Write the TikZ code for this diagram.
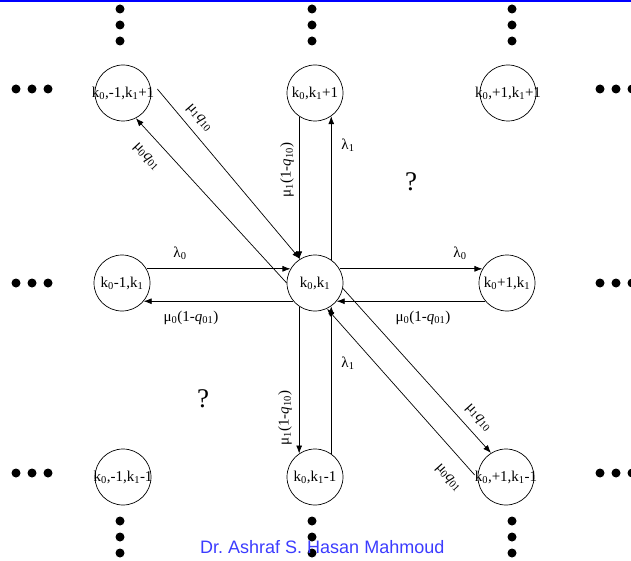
\documentclass[tikz,border=0pt]{standalone}
\usepackage{fontspec}
\setmainfont{Liberation Serif}
\newfontfamily\footfont{Liberation Sans}
\usetikzlibrary{arrows.meta}
\definecolor{footblue}{RGB}{60,60,255}
\newcommand\sbs[1]{\textsubscript{#1}}
\frenchspacing
\begin{document}
\begin{tikzpicture}[x=1bp,y=-1bp,
  state/.style={draw,circle,minimum size=56bp,inner sep=0pt,line width=0.7bp,
    font=\fontsize{15bp}{17bp}\selectfont},
  arr/.style={-{Latex[length=8bp,width=6bp]},line width=0.7bp},
  lab/.style={inner sep=0pt,font=\fontsize{15bp}{17bp}\selectfont},
  qm/.style={inner sep=0pt,font=\fontsize{27bp}{30bp}\selectfont},
  dotc/.style={fill=black}]
\useasboundingbox (0,0) rectangle (631,561);
\draw[blue,line width=2bp] (0,1) -- (631,1);
% states
\node[state] (TL) at (123,93)  {\makebox[0pt]{k\sbs{0},-1,k\sbs{1}+1}};
\node[state] (TM) at (315,93)  {\makebox[0pt]{k\sbs{0},k\sbs{1}+1}};
\node[state] (TR) at (508,93)  {\makebox[0pt]{k\sbs{0},+1,k\sbs{1}+1}};
\node[state] (ML) at (122,283) {\makebox[0pt]{k\sbs{0}-1,k\sbs{1}}};
\node[state] (C)  at (315,283) {\makebox[0pt]{k\sbs{0},k\sbs{1}}};
\node[state] (MR) at (507,283) {\makebox[0pt]{k\sbs{0}+1,k\sbs{1}}};
\node[state] (BL) at (123,477) {\makebox[0pt]{k\sbs{0},-1,k\sbs{1}-1}};
\node[state] (BM) at (315,477) {\makebox[0pt]{k\sbs{0},k\sbs{1}-1}};
\node[state] (BR) at (506,477) {\makebox[0pt]{k\sbs{0},+1,k\sbs{1}-1}};
% dots
\foreach \x in {120,312,512}{
  \foreach \y in {9,25,41,521,537,553}{\fill[dotc] (\x,\y) circle (4.5);}}
\foreach \y in {89,283,473}{
  \foreach \x in {16,32,48,600,616,632}{\fill[dotc] (\x,\y) circle (4.5);}}
% horizontal
\draw[arr] (ML.30) -- (C.150);
\draw[arr] (C.-140) -- (ML.-40);
\draw[arr] (C.30) -- (MR.150);
\draw[arr] (MR.-140) -- (C.-40);
\node[lab] (l0a) at (180,253) {λ\sbs{0}};
\node[lab] (l0b) at (460,253) {λ\sbs{0}};
\node[lab] (m0a) at (191,318) {μ\sbs{0}(1-\textit{q}\sbs{01})};
\node[lab] (m0b) at (423,318) {μ\sbs{0}(1-\textit{q}\sbs{01})};
% vertical
\draw[arr] (TM.-124.85) -- (C.124.85);
\draw[arr] (C.55.15) -- (TM.-55.15);
\draw[arr] (C.-124.85) -- (BM.124.85);
\draw[arr] (BM.55.15) -- (C.-55.15);
\node[lab,rotate=90] (m1a) at (287,170) {μ\sbs{1}(1-\textit{q}\sbs{10})};
\node[lab,rotate=90] (m1b) at (285,418) {μ\sbs{1}(1-\textit{q}\sbs{10})};
\node[lab] (l1a) at (348,145) {λ\sbs{1}};
\node[lab] (l1b) at (348,363) {λ\sbs{1}};
% diagonals
\coordinate (ulstart) at ([shift={(6,-4)}]TL.east);
\coordinate (lrstart) at ([shift={(-3,-2)}]BR.west);
\draw[arr] (ulstart) -- (C.122);
\draw[arr] (C.180) -- (TL.-63);
\draw[arr] (C.-11) -- (BR.122);
\draw[arr] (lrstart) -- (C.-65);
\node[lab,rotate=-49] (d1) at (199,118) {μ\sbs{1}\textit{q}\sbs{10}};
\node[lab,rotate=-47] (d2) at (146,157) {μ\sbs{0}\textit{q}\sbs{01}};
\node[lab,rotate=-48] (d3) at (478,418) {μ\sbs{1}\textit{q}\sbs{10}};
\node[lab,rotate=-48] (d4) at (448,478) {μ\sbs{0}\textit{q}\sbs{01}};
% question marks
\node[qm] (q1) at (411,182) {?};
\node[qm] (q2) at (203,399) {?};
% footer
\node[anchor=base west,inner sep=0pt,text=footblue,
  font=\footfont\fontsize{18bp}{20bp}\selectfont] (foot) at (200,553)
  {Dr. Ashraf S. Hasan Mahmoud};
\end{tikzpicture}
\end{document}
